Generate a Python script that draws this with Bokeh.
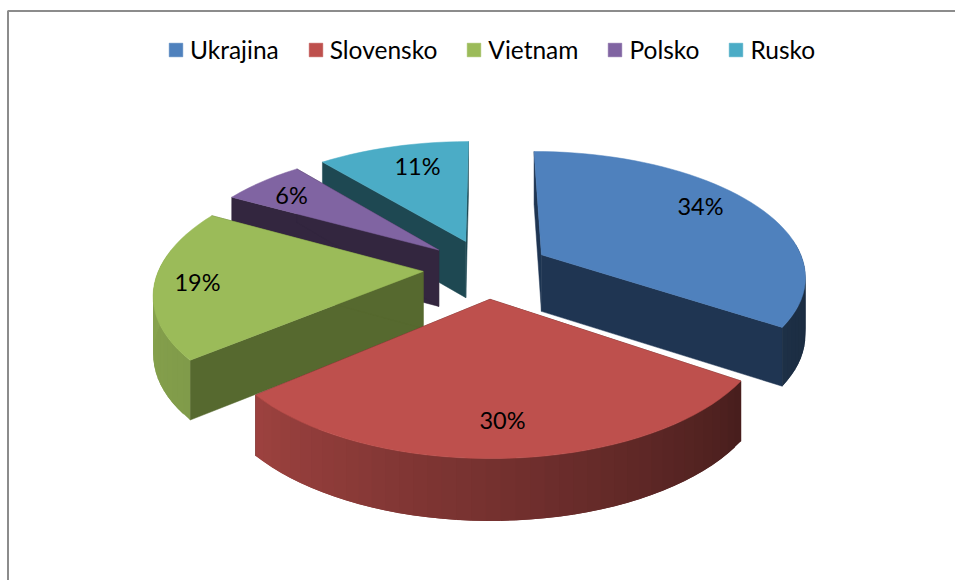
import numpy as np
from bokeh.embed import file_html
from bokeh.resources import INLINE
from bokeh.plotting import figure
from bokeh.models import Legend, LegendItem, Range1d
from bokeh.core.properties import value

categories = ["Ukrajina", "Slovensko", "Vietnam", "Polsko", "Rusko"]
shares = [34.4, 29.5, 19.1, 6.0, 11.0]
label_text = ["34%", "30%", "19%", "6%", "11%"]

top_colors = ["#4F81BD", "#BE504D", "#9BBB59", "#8064A2", "#4BACC6"]
wall_colors = ["#1F3552", "#4A1E1C", "#56692F", "#33263F", "#1E4852"]
base_rgb = [(79, 129, 189), (190, 80, 77), (155, 187, 89), (128, 100, 162), (75, 172, 198)]

# layout of the projected pie
CX, CY = 486, 268
A, B, K = 264, 123.5, 0.157
EXPLODE = 0.24
DEPTH = 57
LABEL_XY = [(700, 205), (502, 419), (197, 281), (291, 194), (417, 165)]


def project(u, v, drop=0.0):
    s = 1 / (1 + K * v)
    d = drop / (1 + 0.07 * v)
    return CX + A * u * s, CY - B * v * s + d


def shade(theta):
    return np.interp(theta, [90, 122, 180, 230, 290], [0.33, 0.37, 0.62, 0.83, 0.9])


p = figure(width=955, height=580, output_backend="svg", toolbar_location=None,
           x_range=Range1d(0, 955), y_range=Range1d(580, 0), min_border=0,
           outline_line_color=None)
p.xaxis.visible = False
p.yaxis.visible = False
p.grid.visible = False

# frame of the chart area
p.line([7.5, 7.5, 955], [580, 10.5, 10.5], line_color="#8C8C8C", line_width=2)

edges = np.concatenate([[0], np.cumsum(shares)]) * 3.6
tops = {}
for i in [4, 3, 2, 0, 1]:
    t0, t1 = edges[i], edges[i + 1]
    mid = np.radians((t0 + t1) / 2)
    au, av = EXPLODE * np.sin(mid), EXPLODE * np.cos(mid)
    th = np.linspace(t0, t1, max(8, int((t1 - t0) / 2.5)))
    rad = np.radians(th)
    us, vs = au + np.sin(rad), av + np.cos(rad)

    # radial walls
    for ue, ve in [(us[0], vs[0]), (us[-1], vs[-1])]:
        x0, y0 = project(au, av)
        x1, y1 = project(ue, ve)
        x2, y2 = project(ue, ve, DEPTH)
        x3, y3 = project(au, av, DEPTH)
        p.patch([x0, x1, x2, x3], [y0, y1, y2, y3], fill_color=wall_colors[i],
                line_color=wall_colors[i], line_width=0.5)

    # outer wall, shaded strip by strip; each strip reaches under the next one
    for j in range(len(th) - 1):
        if np.cos(rad[j]) > 0.1 and np.cos(rad[j + 1]) > 0.1:
            continue
        k = min(j + 2, len(th) - 1)
        xa, ya = project(us[j], vs[j])
        xb, yb = project(us[k], vs[k])
        xc, yc = project(us[k], vs[k], DEPTH)
        xd, yd = project(us[j], vs[j], DEPTH)
        f = float(shade((th[j] + th[j + 1]) / 2))
        r, g, b = [int(c * f) for c in base_rgb[i]]
        col = "#%02X%02X%02X" % (r, g, b)
        p.patch([xa, xb, xc, xd], [ya, yb, yc, yd], fill_color=col, line_color=None)

    # top face
    xs, ys = project(np.concatenate([[au], us]), np.concatenate([[av], vs]))
    tops[i] = p.patch(list(xs), list(ys), fill_color=top_colors[i], line_color=top_colors[i], line_width=0.5)

p.text([c[0] for c in LABEL_XY], [c[1] for c in LABEL_XY], text=label_text,
       text_font=value("Lato"), text_font_size="23.5px", text_color="#000000",
       text_align="center", text_baseline="middle")

legend = Legend(items=[LegendItem(label=c, renderers=[tops[i]]) for i, c in enumerate(categories)],
                orientation="horizontal", location=(167, 516), background_fill_alpha=0,
                border_line_color=None, glyph_width=17, glyph_height=17, label_standoff=6,
                spacing=28, padding=0, margin=0, click_policy="none",
                label_text_font="Lato", label_text_font_size="24.5px", label_text_color="#000000")
p.add_layout(legend)

open("out.html", "w").write(file_html(p, INLINE))
